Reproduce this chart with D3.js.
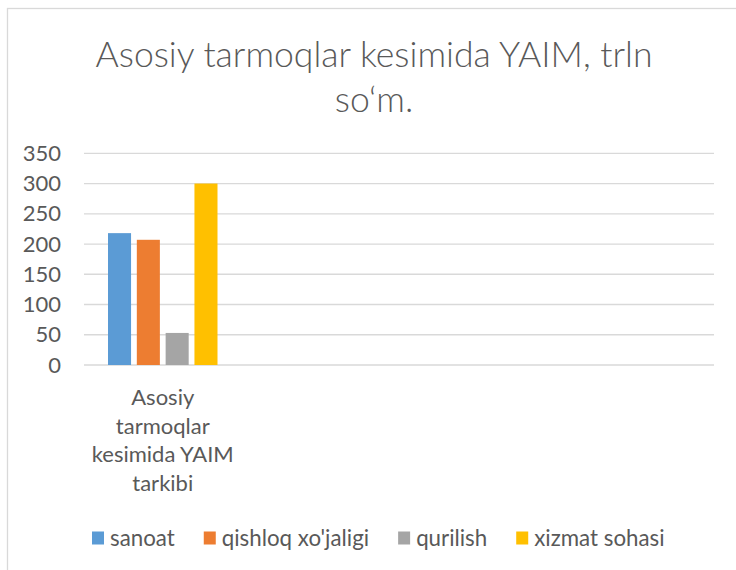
<!DOCTYPE html>
<html>
<head>
<meta charset="utf-8">
<script src="https://cdn.jsdelivr.net/npm/d3@7"></script>
<style>
  body { margin: 0; background: #fff; }
  svg { display: block; font-family: Lato, "Open Sans", sans-serif; }
</style>
</head>
<body>
<svg id="chart" width="736" height="570"></svg>
<script>
// data
const categories = ["Asosiy tarmoqlar kesimida YAIM tarkibi", "", "", ""];
const seriesNames = ["sanoat", "qishloq xo'jaligi", "qurilish", "xizmat sohasi"];
const seriesColors = ["#5b9bd5", "#ed7d31", "#a5a5a5", "#ffc000"];
const seriesValues = [218, 207, 53, 300]; // only first category has values
const yTicks = [0, 50, 100, 150, 200, 250, 300, 350];
const titleLines = ["Asosiy tarmoqlar kesimida YAIM, trln", "so\u2018m."];
const categoryLines = ["Asosiy", "tarmoqlar", "kesimida YAIM", "tarkibi"];

const width = 736, height = 570;
const margin = { left: 84, right: 22, top: 153.3, bottom: 205 };
const textColor = "#595959";

const svg = d3.select("#chart");

// outer chart border
svg.append("rect")
    .attr("x", 7.5).attr("y", 8.5)
    .attr("width", 760).attr("height", 600)
    .attr("fill", "#fff")
    .attr("stroke", "#d9d9d9")
    .attr("stroke-width", 1.3);

// title
svg.append("text")
    .attr("text-anchor", "middle")
    .attr("fill", textColor)
    .style("font-size", "35.6px")
    .style("font-weight", 300)
    .selectAll("tspan")
    .data(titleLines)
    .join("tspan")
        .attr("x", 374)
        .attr("y", (d, i) => 67 + i * 45)
        .text(d => d);

const x = d3.scaleBand()
    .domain(d3.range(categories.length))
    .range([margin.left, width - margin.right]);

const y = d3.scaleLinear()
    .domain([0, 350])
    .range([height - margin.bottom, margin.top]);

const xInner = d3.scaleBand()
    .domain(seriesNames)
    .range([24, x.bandwidth() - 24])
    .paddingInner(0.2);

// gridlines
svg.append("g")
    .selectAll("line")
    .data(yTicks)
    .join("line")
        .attr("x1", margin.left)
        .attr("x2", width - margin.right)
        .attr("y1", d => y(d))
        .attr("y2", d => y(d))
        .attr("stroke", "#d9d9d9")
        .attr("stroke-width", 1.3);

// y axis labels
const yAxis = svg.append("g")
    .attr("transform", `translate(${margin.left},0)`)
    .call(d3.axisLeft(y).tickValues(yTicks).tickSize(0).tickPadding(23));
yAxis.select(".domain").remove();
yAxis.selectAll("text")
    .attr("fill", textColor)
    .style("font-family", "Lato, sans-serif")
    .style("font-size", "22px");

// bars
svg.append("g")
    .selectAll("rect")
    .data(seriesNames.map((s, i) => ({ name: s, value: seriesValues[i], color: seriesColors[i] })))
    .join("rect")
        .attr("x", d => x(0) + xInner(d.name))
        .attr("y", d => y(d.value))
        .attr("width", xInner.bandwidth())
        .attr("height", d => y(0) - y(d.value))
        .attr("fill", d => d.color);

// category label (wrapped)
svg.append("text")
    .attr("text-anchor", "middle")
    .attr("fill", textColor)
    .style("font-size", "22px")
    .selectAll("tspan")
    .data(categoryLines)
    .join("tspan")
        .attr("x", x(0) + x.bandwidth() / 2)
        .attr("y", (d, i) => 405 + i * 28.5)
        .text(d => d);

// legend
const legend = svg.append("g");
const items = legend.selectAll("g")
    .data(seriesNames)
    .join("g");
items.append("rect")
    .attr("width", 12).attr("height", 13)
    .attr("y", -6.5)
    .attr("fill", (d, i) => seriesColors[i]);
items.append("text")
    .attr("x", 18)
    .attr("dy", "0.35em")
    .attr("fill", textColor)
    .style("font-size", "22.3px")
    .text(d => d);

let lx = 0;
items.each(function() {
  const w = 18 + this.querySelector("text").getComputedTextLength();
  d3.select(this).attr("transform", `translate(${lx},0)`);
  lx += w + 29;
});
legend.attr("transform", `translate(${92},538)`);
</script>
</body>
</html>
